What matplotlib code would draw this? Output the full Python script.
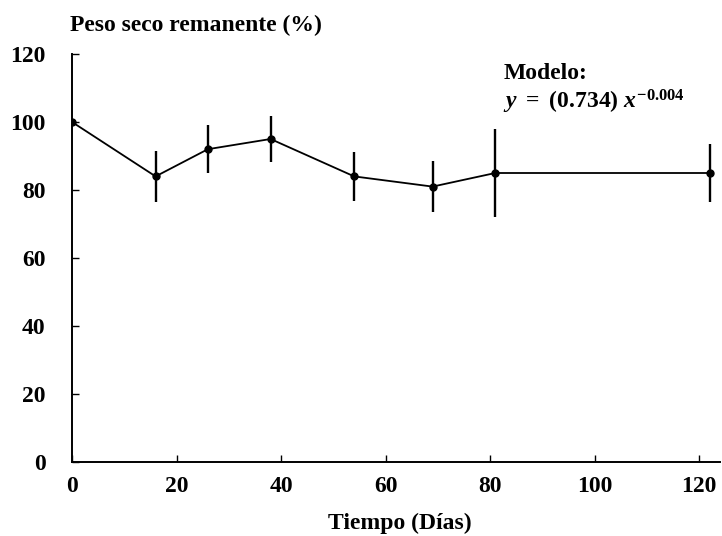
import matplotlib
matplotlib.use('Agg')
from matplotlib import pyplot as plt

# datos
dias = [0, 16, 26, 38, 54, 69, 81, 122]
peso = [100, 84, 92, 95, 84, 81, 85, 85]
error = [0, 7.4, 7.1, 6.7, 7.2, 7.6, 13.0, 8.5]
ticks_x = [0, 20, 40, 60, 80, 100, 120]
ticks_y = [0, 20, 40, 60, 80, 100, 120]

plt.rcParams['font.family'] = 'Liberation Serif'
plt.rcParams['font.weight'] = 'bold'
plt.rcParams['mathtext.fontset'] = 'custom'
plt.rcParams['mathtext.rm'] = 'Liberation Serif:bold'
plt.rcParams['mathtext.it'] = 'Liberation Serif:bold:italic'
plt.rcParams['mathtext.bf'] = 'Liberation Serif:bold'

fs = 17

fig = plt.figure(figsize=(7.22, 5.36), dpi=100)
ax = fig.add_axes([72 / 722, 1 - 462 / 536, (720 - 72) / 722, (462 - 54) / 536])

ax.errorbar(dias, peso, yerr=error, color='black', lw=1.3, elinewidth=1.7,
            capsize=0, marker='o', markersize=5)

ax.set_xlim(0, 124)
ax.set_ylim(0, 120)
ax.set_xticks(ticks_x)
ax.set_yticks(ticks_y)
ax.spines['top'].set_visible(False)
ax.spines['right'].set_visible(False)
ax.spines['left'].set_linewidth(1.4)
ax.spines['bottom'].set_linewidth(1.4)
ax.tick_params(axis='both', direction='in', length=5, width=1, labelsize=fs)
ax.tick_params(axis='y', pad=19)
ax.tick_params(axis='x', pad=10)

fig.text(70 / 722, 1 - 25 / 536, 'Peso seco remanente (%)', fontsize=fs,
         fontweight='bold', va='center', ha='left')
fig.text(400 / 722, 1 - 523 / 536, 'Tiempo (Días)', fontsize=fs,
         fontweight='bold', va='center', ha='center')

ax.text(82.5, 114.4, 'Modelo:', fontsize=fs, fontweight='bold', va='center', ha='left')
ax.text(82.5, 106, r'$y\ =\ (0.734)\ x^{-0.004}$', fontsize=fs, va='center', ha='left')

fig.savefig('out.png', dpi=100)
